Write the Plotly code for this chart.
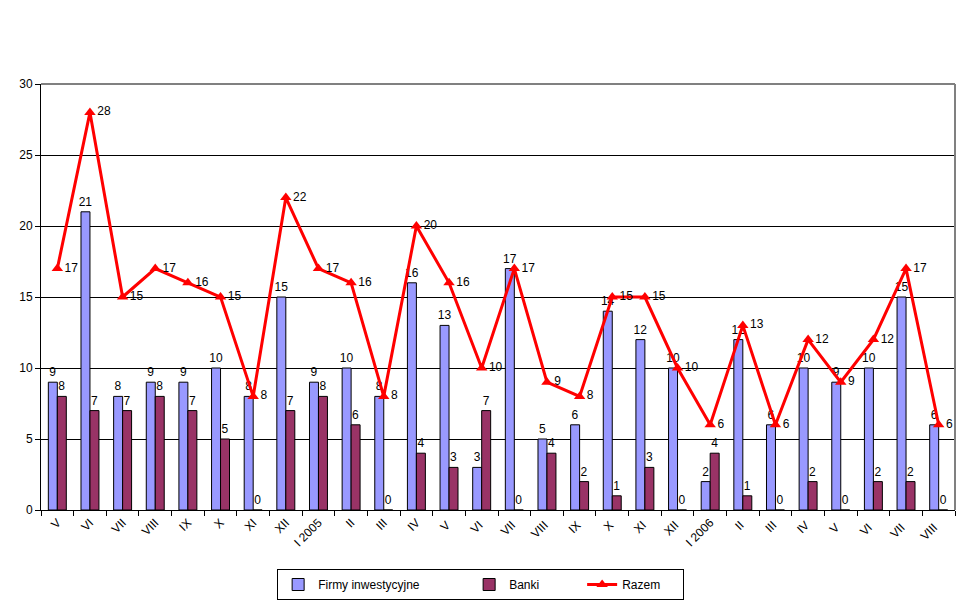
import plotly.graph_objects as go

categories = ["V", "VI", "VII", "VIII", "IX", "X", "XI", "XII", "I 2005", "II", "III", "IV",
              "V ", "VI ", "VII ", "VIII ", "IX ", "X ", "XI ", "XII ", "I 2006", "II ", "III ",
              "IV ", "V  ", "VI  ", "VII  ", "VIII  "]
firmy = [9, 21, 8, 9, 9, 10, 8, 15, 9, 10, 8, 16, 13, 3, 17, 5, 6, 14, 12, 10, 2, 12, 6, 10, 9, 10, 15, 6]
banki = [8, 7, 7, 8, 7, 5, 0, 7, 8, 6, 0, 4, 3, 7, 0, 4, 2, 1, 3, 0, 4, 1, 0, 2, 0, 2, 2, 0]
razem = [17, 28, 15, 17, 16, 15, 8, 22, 17, 16, 8, 20, 16, 10, 17, 9, 8, 15, 15, 10, 6, 13, 6, 12, 9, 12, 17, 6]

font = dict(family="Liberation Sans, Arial, sans-serif", size=12, color="black")

fig = go.Figure()
fig.add_trace(go.Bar(
    x=categories, y=firmy, name="Firmy inwestycyjne",
    marker=dict(color="#9999FF", line=dict(color="black", width=1)),
    text=firmy, textposition="outside", cliponaxis=False, constraintext="none",
    textfont=font, legendwidth=146,
))
fig.add_trace(go.Bar(
    x=categories, y=banki, name="Banki",
    marker=dict(color="#993366", line=dict(color="black", width=1)),
    text=banki, textposition="outside", cliponaxis=False, constraintext="none",
    textfont=font, legendwidth=68,
))
fig.add_trace(go.Scatter(
    x=categories, y=razem, name="Razem", mode="lines+markers+text",
    line=dict(color="#FF0000", width=3),
    marker=dict(symbol="triangle-up", size=10, color="#FF0000"),
    text=razem, textposition="middle right", textfont=font, cliponaxis=False,
    legendwidth=56,
))

# gray plot-area border on top and right
fig.add_shape(type="line", xref="paper", yref="paper", x0=0, x1=1, y0=1, y1=1,
              line=dict(color="#808080", width=2), layer="above")
fig.add_shape(type="line", xref="paper", yref="paper", x0=1, x1=1, y0=0, y1=1,
              line=dict(color="#808080", width=2), layer="above")

fig.update_layout(
    width=962, height=596,
    margin=dict(l=33, r=15, t=76, b=94, autoexpand=False),
    paper_bgcolor="white", plot_bgcolor="white",
    font=font,
    barmode="group", bargap=0.45, bargroupgap=0,
    showlegend=True,
    legend=dict(orientation="h", x=0.481, xanchor="center", y=-0.1385, yanchor="top",
                bordercolor="black", borderwidth=1, font=dict(size=12),
                itemwidth=30, traceorder="normal"),
)
fig.update_xaxes(
    type="category", range=[-0.5, 27.5], tickangle=-45, ticks="outside", tickson="boundaries",
    ticklen=5, tickcolor="black", linecolor="black", showline=True,
    showgrid=False, tickfont=dict(size=12), automargin=False,
)
fig.update_yaxes(
    range=[0, 30], dtick=5, ticks="outside", ticklen=5, tickcolor="black",
    showline=True, linecolor="black", gridcolor="black", gridwidth=1,
    zeroline=False, tickfont=dict(size=12), automargin=False,
)

fig.write_html("out.html")
